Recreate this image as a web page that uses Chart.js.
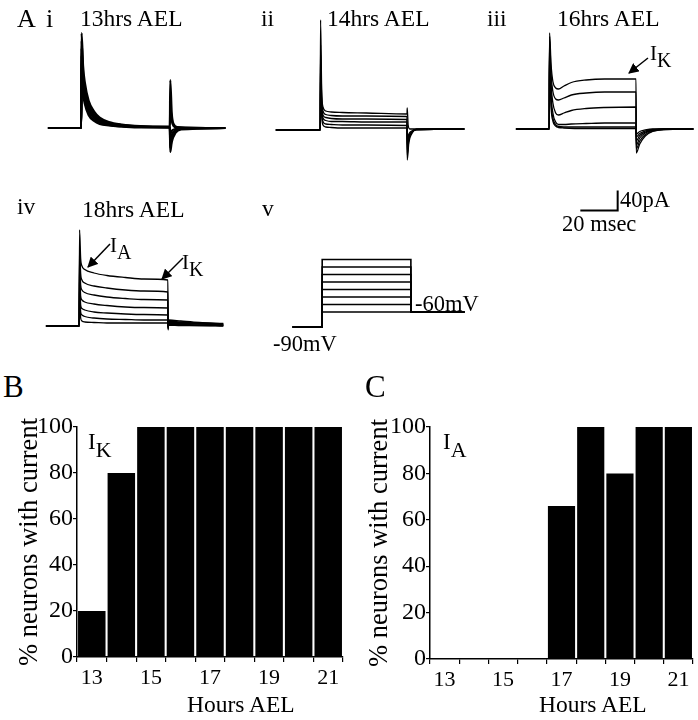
<!DOCTYPE html>
<html>
<head>
<meta charset="utf-8">
<script src="https://cdn.jsdelivr.net/npm/chart.js@4.4.0/dist/chart.umd.min.js"></script>
<style>
  body { margin:0; background:#fff; }
  #fig { position:relative; width:698px; height:720px; overflow:hidden; background:#fff; }
  canvas { position:absolute; }
  .t { position:absolute; font-family:"Liberation Serif", "Times New Roman", serif; color:#000; line-height:1; white-space:nowrap; font-size:23.5px; z-index:3; }
  .t .s { position:relative; top:0.35em; font-size:0.95em; }
  svg { position:absolute; left:0; top:0; z-index:4; }
</style>
</head>
<body>
<div id="fig">
  <canvas id="trI" width="194" height="160" style="left:35px;top:8px"></canvas>
  <canvas id="trII" width="194" height="160" style="left:274px;top:10px"></canvas>
  <canvas id="trIII" width="194" height="160" style="left:503px;top:9px"></canvas>
  <canvas id="trIV" width="194" height="160" style="left:33px;top:206px"></canvas>
  <canvas id="prot" width="194" height="85" style="left:276px;top:252px"></canvas>
  <canvas id="scalebar" width="56" height="25" style="left:571px;top:188px"></canvas>
  <canvas id="barB" width="350" height="310" style="left:0px;top:410px"></canvas>
  <canvas id="barC" width="348" height="310" style="left:350px;top:410px"></canvas>

  <div class="t" style="left:17px;top:6px;font-size:26px">A</div>
  <div class="t" style="left:46px;top:6px;font-size:26px">i</div>
  <div class="t" style="left:80px;top:7px">13hrs AEL</div>
  <div class="t" style="left:261px;top:7px">ii</div>
  <div class="t" style="left:327px;top:7px">14hrs AEL</div>
  <div class="t" style="left:487px;top:7px">iii</div>
  <div class="t" style="left:557px;top:7px">16hrs AEL</div>
  <div class="t" style="left:650px;top:43px;font-size:21px">I<span class="s">K</span></div>
  <div class="t" style="left:17px;top:195px">iv</div>
  <div class="t" style="left:82px;top:198px">18hrs AEL</div>
  <div class="t" style="left:110px;top:235px;font-size:21px">I<span class="s">A</span></div>
  <div class="t" style="left:182px;top:252px;font-size:21px">I<span class="s">K</span></div>
  <div class="t" style="left:262px;top:197px">v</div>
  <div class="t" style="left:415px;top:293px;font-size:22.5px">-60mV</div>
  <div class="t" style="left:273px;top:333px;font-size:22.5px">-90mV</div>
  <div class="t" style="left:620px;top:189px;font-size:22.5px">40pA</div>
  <div class="t" style="left:562px;top:213px;font-size:22.5px">20 msec</div>

  <div class="t" style="left:3px;top:371px;font-size:31px">B</div>
  <div class="t" style="left:365px;top:371px;font-size:31px">C</div>
  <div class="t" style="left:88px;top:430px;font-size:23px">I<span class="s">K</span></div>
  <div class="t" style="left:443px;top:430px;font-size:23px">I<span class="s">A</span></div>
  <div class="t" style="left:187px;top:693px;font-size:23.5px">Hours AEL</div>
  <div class="t" style="left:539px;top:693px;font-size:23.5px">Hours AEL</div>

  <svg width="698" height="720">
    <defs>
      <marker id="ah" viewBox="0 0 10 10" refX="9" refY="5" markerWidth="7" markerHeight="7" orient="auto">
        <path d="M0,0 L10,5 L0,10 z" fill="#000"/>
      </marker>
    </defs>
    <line x1="648" y1="58" x2="629" y2="73" stroke="#000" stroke-width="1.5" marker-end="url(#ah)"/>
    <line x1="110" y1="244" x2="88" y2="267" stroke="#000" stroke-width="1.5" marker-end="url(#ah)"/>
    <line x1="183" y1="258" x2="162" y2="279" stroke="#000" stroke-width="1.5" marker-end="url(#ah)"/>
  </svg>
</div>

<script>
// bar data (panels B and C)
var hours = ['13','14','15','16','17','18','19','20','21'];
var pctIK = [20, 80, 100, 100, 100, 100, 100, 100, 100];
var pctIA = [0, 0, 0, 0, 66, 100, 80, 100, 100];

// current traces, [msec, pA], step starts at t=0
var traces13 = [
  [[-18,0],[0,0],[0.2,190],[1,125],[2,90],[4,55],[7,33],[10,21],[15,12],[22,7],[32,4],[48,3],[48.2,96],[49,30],[50,8],[52,2],[78,0]],
  [[-18,0],[0,0],[0.2,175],[1,112],[2,80],[4,48],[7,28],[10,18],[15,10],[22,6],[32,3],[48,2],[48.2,45],[49,15],[50,4],[52,1],[78,0]],
  [[-18,0],[0,0],[0.2,160],[1,100],[2,70],[4,42],[7,24],[10,15],[15,9],[22,5],[32,3],[48,2],[48.2,-12],[49,-6],[51,-2],[54,0],[78,0]],
  [[-18,0],[0,0],[0.2,145],[1,88],[2,62],[4,36],[7,20],[10,12],[15,7],[22,4],[32,2],[48,1],[48.2,-28],[49,-14],[51,-5],[54,-1],[78,0]],
  [[-18,0],[0,0],[0.2,130],[1,78],[2,54],[4,30],[7,16],[10,10],[15,6],[22,3],[32,2],[48,1],[48.2,-40],[49,-22],[51,-8],[54,-2],[78,0]],
  [[-18,0],[0,0],[0.2,120],[1,70],[2,48],[4,26],[7,14],[10,8],[15,5],[22,3],[32,1],[48,1],[48.2,-48],[49,-28],[51,-10],[54,-3],[78,0]]
];
var traces14 = [
  [[-24,0],[0,0],[0.2,220],[0.8,80],[1.5,46],[3,38],[6,36],[12,35],[25,34],[47,32],[47.1,44],[47.6,10],[48.5,2],[78,2]],
  [[-24,0],[0,0],[0.2,170],[0.8,65],[1.5,38],[3,31],[6,29],[12,28],[25,28],[47,27],[47.1,-60],[48,-25],[49.5,-8],[52,1],[78,2]],
  [[-24,0],[0,0],[0.2,150],[0.8,55],[1.5,30],[3,25],[6,23],[12,22],[25,22],[47,21],[47.1,-50],[48,-20],[49.5,-6],[52,1],[78,2]],
  [[-24,0],[0,0],[0.2,130],[0.8,45],[1.5,24],[3,19],[6,17],[12,17],[25,16],[47,16],[47.1,-40],[48,-16],[49.5,-5],[52,1],[78,2]],
  [[-24,0],[0,0],[0.2,110],[0.8,36],[1.5,17],[3,12],[6,11],[12,10],[25,10],[47,9],[47.1,-30],[48,-12],[49.5,-4],[52,1],[78,2]],
  [[-24,0],[0,0],[0.2,90],[0.8,28],[1.5,10],[3,6],[6,5],[12,4],[25,4],[47,4],[47.1,-20],[48,-8],[49.5,-2],[52,1],[78,2]]
];
var traces16 = [
  [[-18,0],[0,0],[0.2,192],[1,130],[2,95],[3.5,82],[5,80],[8,86],[12,93],[20,98],[30,100],[47,100],[47.1,-48],[49,-30],[52,-14],[56,-5],[62,-1],[78,0]],
  [[-18,0],[0,0],[0.2,185],[1,110],[2,75],[3.5,60],[5,58],[8,62],[12,68],[20,72],[30,74],[47,74],[47.1,-40],[49,-24],[52,-11],[56,-4],[62,-1],[78,0]],
  [[-18,0],[0,0],[0.2,175],[1,90],[2,52],[3.5,32],[5,28],[8,32],[12,37],[20,41],[30,43],[47,44],[47.1,-32],[49,-18],[52,-8],[56,-3],[62,0],[78,0]],
  [[-18,0],[0,0],[0.2,165],[1,70],[2,32],[3.5,14],[5,9],[8,9],[12,10],[20,11],[30,12],[47,12],[47.1,-24],[49,-13],[52,-6],[56,-2],[62,0],[78,0]],
  [[-18,0],[0,0],[0.2,155],[1,55],[2,22],[3.5,9],[5,5],[8,4],[12,4],[20,4],[30,4],[47,4],[47.1,-16],[49,-9],[52,-4],[56,-1],[78,0]],
  [[-18,0],[0,0],[0.2,145],[1,45],[2,16],[3.5,6],[5,3],[8,2],[20,1],[47,1],[47.1,-10],[49,-5],[52,-2],[56,0],[78,0]]
];
var traces18 = [
  [[-18,0],[0,0],[0.2,192],[0.8,135],[1.5,120],[3,113],[8,106],[15,101],[25,97],[35,94],[48,92],[48.1,-8],[48.6,12],[55,10],[65,7],[78,5]],
  [[-18,0],[0,0],[0.2,160],[0.8,105],[1.5,92],[3,86],[8,80],[15,76],[25,72],[35,70],[48,68],[48.1,-6],[48.6,10],[55,8],[65,6],[78,4]],
  [[-18,0],[0,0],[0.2,140],[0.8,82],[1.5,72],[3,67],[8,62],[15,58],[25,55],[35,53],[48,52],[48.1,-5],[48.6,8],[55,7],[65,5],[78,3]],
  [[-18,0],[0,0],[0.2,120],[0.8,60],[1.5,52],[3,48],[8,44],[15,41],[25,38],[35,37],[48,36],[48.1,-4],[48.6,6],[55,5],[65,4],[78,2]],
  [[-18,0],[0,0],[0.2,100],[0.8,42],[1.5,35],[3,32],[8,28],[15,26],[25,24],[35,23],[48,22],[48.1,-3],[48.6,4],[55,3],[65,2],[78,1]],
  [[-18,0],[0,0],[0.2,80],[0.8,28],[1.5,22],[3,19],[8,16],[15,14],[25,13],[35,12],[48,12],[48.1,-2],[48.6,3],[55,2],[65,1],[78,1]],
  [[-18,0],[0,0],[0.2,60],[0.8,16],[1.5,10],[3,8],[8,7],[15,6],[25,6],[35,6],[48,6],[48.1,-1],[48.6,2],[55,1],[65,1],[78,0]]
];

// voltage protocol (mV) and scale bar (20 msec, 40 pA)
var holdMV = -90;
var tailMV = -60;
var stepMV = [-60, -45, -30, -15, 0, 15, 30, 45];
var protTimes = [-16, 0, 48, 77];
var scaleBar = [[0,0],[20,0],[20,40]];

var serif = '"Liberation Serif", "Times New Roman", serif';

function noUi() {
  return { legend:{display:false}, tooltip:{enabled:false} };
}

function traceChart(id, traces, lw) {
  new Chart(document.getElementById(id), {
    type: 'line',
    data: {
      datasets: traces.map(function(tr){
        return { data: tr, borderColor:'#000', borderWidth: lw, pointRadius:0, fill:false, cubicInterpolationMode:'monotone' };
      })
    },
    options: {
      responsive:false, animation:false, events:[],
      layout:{padding:0},
      plugins: noUi(),
      scales: {
        x:{type:'linear', min:-25, max:80, display:false},
        y:{min:-80, max:240, display:false}
      }
    }
  });
}

traceChart('trI', traces13, 2.2);
traceChart('trII', traces14, 1.3);
traceChart('trIII', traces16, 1.3);
traceChart('trIV', traces18, 1.3);

new Chart(document.getElementById('prot'), {
  type:'line',
  data:{
    datasets: stepMV.map(function(v){
      return {
        data: [[protTimes[0],holdMV],[protTimes[1],holdMV],[protTimes[1],v],[protTimes[2],v],[protTimes[2],tailMV],[protTimes[3],tailMV]],
        borderColor:'#000', borderWidth:1.6, pointRadius:0, tension:0, fill:false
      };
    })
  },
  options:{
    responsive:false, animation:false, events:[], layout:{padding:0}, plugins:noUi(),
    scales:{ x:{type:'linear', min:-25, max:80, display:false}, y:{min:-110, max:60, display:false} }
  }
});

new Chart(document.getElementById('scalebar'), {
  type:'line',
  data:{ datasets:[{ data: scaleBar, borderColor:'#000', borderWidth:2, pointRadius:0, tension:0 }] },
  options:{
    responsive:false, animation:false, events:[], layout:{padding:0}, plugins:noUi(),
    scales:{ x:{type:'linear', min:-5, max:25, display:false}, y:{min:-5, max:45, display:false} }
  }
});

function barChart(id, values, axisW, axisH, padR) {
  new Chart(document.getElementById(id), {
    type:'bar',
    data:{
      labels: hours,
      datasets:[{ data: values, backgroundColor:'#000', borderWidth:0, barPercentage:0.93, categoryPercentage:1 }]
    },
    options:{
      responsive:false, animation:false, events:[],
      layout:{padding:{top:17, right:padR, left:0, bottom:0}},
      plugins: noUi(),
      scales:{
        x:{
          offset:true,
          grid:{ offset:true, drawOnChartArea:false, drawTicks:true, tickLength:5, color:'#000', lineWidth:1.2 },
          border:{ color:'#000', width:1.5 },
          ticks:{ autoSkip:false, maxRotation:0, padding:3, color:'#000', font:{family:serif, size:22},
            callback:function(v, i){ return i % 2 === 0 ? hours[i] : ''; } },
          afterFit:function(s){ s.height = axisH; }
        },
        y:{
          min:0, max:100,
          grid:{ drawOnChartArea:false, drawTicks:true, tickLength:4, color:'#000', lineWidth:1.2 },
          border:{ color:'#000', width:1.5 },
          ticks:{ stepSize:10, padding:0, color:'#000', font:{family:serif, size:24},
            callback:function(v){ return v % 20 === 0 ? String(v) : ''; } },
          title:{ display:true, text:'% neurons with current', color:'#000', font:{family:serif, size:26.5}, padding:{top:14, bottom:0} },
          afterFit:function(s){ s.width = axisW; }
        }
      }
    }
  });
}

barChart('barB', pctIK, 77, 63, 7);
barChart('barC', pctIA, 80, 61, 5);
</script>
</body>
</html>
